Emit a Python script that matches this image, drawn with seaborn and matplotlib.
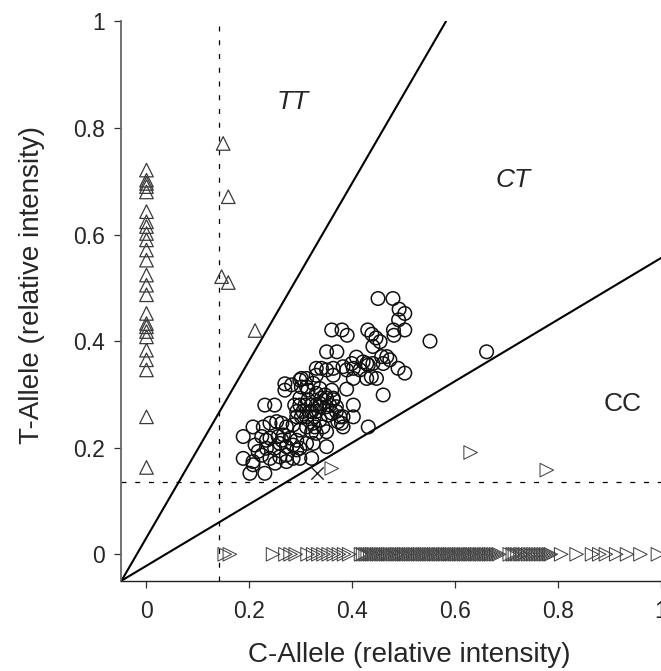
import matplotlib
matplotlib.use("Agg")
import matplotlib.pyplot as plt
import seaborn as sns
import pandas as pd

# --- genotype cluster data ---
# CT heterozygotes (open circles)
ct_x = [0.450, 0.479, 0.491, 0.502, 0.490, 0.480, 0.481, 0.502, 0.551, 0.661,
        0.360, 0.380, 0.390, 0.430, 0.438, 0.446, 0.454, 0.440,
        0.350, 0.370, 0.457, 0.467, 0.473, 0.460,
        0.408, 0.399, 0.421, 0.431, 0.382, 0.440, 0.428,
        0.415, 0.402, 0.389, 0.363, 0.350, 0.340, 0.330, 0.330, 0.363,
        0.437, 0.447, 0.428, 0.402, 0.489, 0.502, 0.389, 0.460,
        0.301, 0.311, 0.301, 0.311, 0.269, 0.269, 0.282, 0.298,
        0.324, 0.337, 0.330, 0.314,
        0.360, 0.363, 0.350, 0.356, 0.340, 0.337, 0.369, 0.353, 0.347, 0.337,
        0.350, 0.363, 0.369, 0.360, 0.372, 0.337,
        0.298, 0.288, 0.298, 0.308, 0.292, 0.304, 0.317, 0.314,
        0.321, 0.330, 0.321, 0.330, 0.292, 0.301, 0.311, 0.326,
        0.230, 0.249,
        0.402, 0.402, 0.382, 0.376, 0.379, 0.382, 0.431,
        0.327, 0.321, 0.330, 0.311, 0.350, 0.343,
        0.207, 0.227, 0.240, 0.253, 0.263, 0.272, 0.285, 0.298, 0.324,
        0.188, 0.224, 0.233, 0.256, 0.266, 0.279, 0.292, 0.311, 0.324, 0.240, 0.263,
        0.259, 0.272, 0.285, 0.298, 0.249, 0.233, 0.217, 0.211,
        0.188, 0.207, 0.224, 0.240, 0.259, 0.272, 0.292, 0.298, 0.321, 0.350,
        0.201, 0.230, 0.272, 0.207, 0.250, 0.285]
ct_y = [0.480, 0.480, 0.460, 0.452, 0.440, 0.421, 0.411, 0.421, 0.400, 0.380,
        0.421, 0.421, 0.411, 0.421, 0.413, 0.406, 0.399, 0.390,
        0.380, 0.380, 0.371, 0.371, 0.365, 0.358,
        0.370, 0.358, 0.361, 0.355, 0.352, 0.358, 0.358,
        0.346, 0.349, 0.346, 0.349, 0.346, 0.349, 0.349, 0.336, 0.336,
        0.333, 0.330, 0.330, 0.330, 0.349, 0.340, 0.310, 0.299,
        0.330, 0.330, 0.314, 0.314, 0.320, 0.308, 0.318, 0.327,
        0.321, 0.311, 0.302, 0.308,
        0.308, 0.293, 0.293, 0.280, 0.293, 0.277, 0.268, 0.261, 0.299, 0.283,
        0.277, 0.290, 0.277, 0.265, 0.249, 0.252,
        0.293, 0.280, 0.280, 0.280, 0.268, 0.268, 0.268, 0.290,
        0.280, 0.280, 0.268, 0.268, 0.258, 0.258, 0.258, 0.258,
        0.280, 0.280,
        0.280, 0.258, 0.258, 0.258, 0.246, 0.239, 0.239,
        0.239, 0.230, 0.227, 0.239, 0.230, 0.239,
        0.239, 0.239, 0.246, 0.249, 0.246, 0.239, 0.243, 0.233, 0.246,
        0.221, 0.221, 0.214, 0.221, 0.224, 0.218, 0.214, 0.208, 0.208, 0.218, 0.214,
        0.208, 0.202, 0.205, 0.199, 0.199, 0.199, 0.193, 0.205,
        0.180, 0.174, 0.186, 0.180, 0.183, 0.186, 0.196, 0.180, 0.180, 0.202,
        0.152, 0.152, 0.174, 0.168, 0.171, 0.180]

# TT homozygotes (up triangles): column at C = 0, then a few off the axis
tt_axis_y = [0.721, 0.702, 0.696, 0.690, 0.680, 0.643, 0.624, 0.615, 0.602, 0.590,
             0.571, 0.552, 0.524, 0.505, 0.487, 0.452, 0.433, 0.427, 0.418, 0.408,
             0.383, 0.365, 0.346, 0.258, 0.163]
tt_off_x = [0.149, 0.159, 0.146, 0.159, 0.211]
tt_off_y = [0.771, 0.671, 0.521, 0.510, 0.420]

# CC homozygotes (right triangles): row at T = 0, then a few off the axis
cc_axis_x = [0.152, 0.162, 0.246, 0.270, 0.280, 0.290, 0.313, 0.324, 0.334, 0.344,
             0.354, 0.364, 0.374, 0.384, 0.394,
             0.417, 0.421, 0.426, 0.430, 0.435, 0.439, 0.443, 0.448, 0.452, 0.457,
             0.461, 0.466, 0.470, 0.474, 0.479, 0.484, 0.488, 0.492, 0.497, 0.501,
             0.505, 0.510, 0.514, 0.519, 0.523, 0.528, 0.532, 0.537, 0.541, 0.545,
             0.550, 0.554, 0.559, 0.563, 0.568, 0.572, 0.577, 0.581, 0.586, 0.590,
             0.594, 0.599, 0.603, 0.608, 0.612, 0.617, 0.621, 0.626, 0.630, 0.634,
             0.639, 0.643, 0.648, 0.652, 0.657, 0.661, 0.666, 0.670, 0.675, 0.680, 0.685,
             0.706, 0.712, 0.716, 0.721, 0.727, 0.731, 0.736, 0.742, 0.747, 0.752,
             0.757, 0.762, 0.767, 0.772, 0.777, 0.782, 0.786,
             0.806, 0.836, 0.866, 0.880, 0.893, 0.913, 0.934, 0.960, 0.994]
cc_off_x = [0.360, 0.630, 0.778]
cc_off_y = [0.161, 0.191, 0.158]

# failed call
fail_x = [0.332]
fail_y = [0.152]

# thresholds and cluster boundaries
thr_x = 0.141
thr_y = 0.136
corner = (-0.0486, -0.0495)
tt_end = (0.582, 1.0)
cc_end = (1.0, 0.556)

ticks = [0, 0.2, 0.4, 0.6, 0.8, 1]
tick_labels = ["0", "0.2", "0.4", "0.6", "0.8", "1"]

sns.set_theme(style="ticks")
plt.rcParams["font.family"] = ["Liberation Sans", "DejaVu Sans"]

fig = plt.figure(figsize=(6.61, 6.71), dpi=100)
ax = fig.add_axes([0.1838, 0.1346, 0.8162, 0.8335])

ct = pd.DataFrame({"c": ct_x, "t": ct_y})
tt = pd.DataFrame({"c": [0.0] * len(tt_axis_y) + tt_off_x,
                   "t": tt_axis_y + tt_off_y})
cc = pd.DataFrame({"c": cc_axis_x + cc_off_x,
                   "t": [0.0] * len(cc_axis_x) + cc_off_y})

sns.scatterplot(data=ct, x="c", y="t", marker="o", s=95, fc="none",
                ec="#111111", linewidth=1.1, ax=ax, zorder=3)
sns.scatterplot(data=tt, x="c", y="t", marker="^", s=95, fc="none",
                ec="#3a3a3a", linewidth=0.9, ax=ax, zorder=3)
sns.scatterplot(data=cc, x="c", y="t", marker=">", s=95, fc="none",
                ec="#444444", linewidth=0.75, ax=ax, zorder=3)
ax.scatter(fail_x, fail_y, marker="x", s=80, c="#222222", linewidth=1.0, zorder=3)

# boundary lines
ax.plot([corner[0], tt_end[0]], [corner[1], tt_end[1]], color="black", lw=1.5)
ax.plot([corner[0], cc_end[0]], [corner[1], cc_end[1]], color="black", lw=1.5)
ax.axvline(thr_x, color="black", lw=0.9, ls=(0, (4, 7)))
ax.axhline(thr_y, color="black", lw=0.9, ls=(0, (4, 7)))

ax.text(0.284, 0.849, "TT", fontsize=19, style="italic", ha="center", va="center")
ax.text(0.712, 0.702, "CT", fontsize=19, style="italic", ha="center", va="center")
ax.text(0.925, 0.282, "CC", fontsize=19, ha="center", va="center")

ax.set_xlim(corner[0], 1.0)
ax.set_ylim(corner[1], 1.0)
ax.set_xticks(ticks)
ax.set_xticklabels(tick_labels)
ax.set_yticks(ticks)
ax.set_yticklabels(tick_labels)
ax.tick_params(axis="both", labelsize=16.5, length=5, width=0.9, color="#333333")
ax.tick_params(axis="x", pad=9)
ax.tick_params(axis="y", pad=7)

ax.set_xlabel("C-Allele (relative intensity)", fontsize=20, va="center")
ax.set_ylabel("T-Allele (relative intensity)", fontsize=20, va="center")
ax.xaxis.set_label_coords(0.533, -0.133)
ax.yaxis.set_label_coords(-0.166, 0.529)

sns.despine(ax=ax)
ax.spines["left"].set_color("#666666")
ax.spines["left"].set_linewidth(1.3)
ax.spines["bottom"].set_color("#222222")
ax.spines["bottom"].set_linewidth(1.0)

fig.savefig("out.png", dpi=100)
